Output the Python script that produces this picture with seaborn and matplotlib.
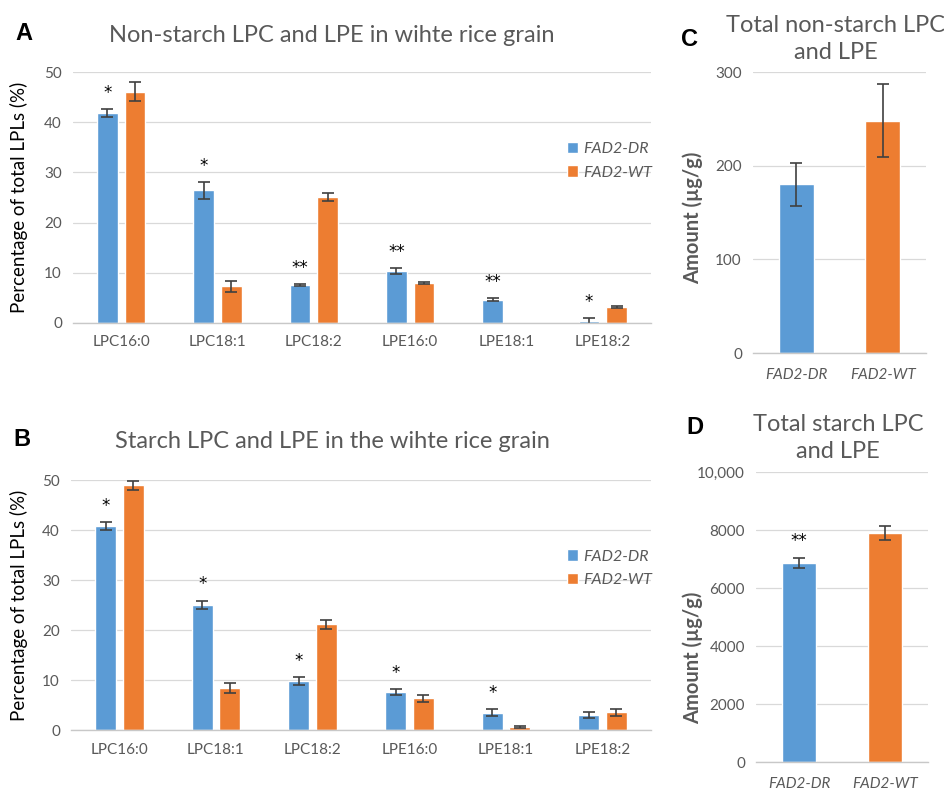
import numpy as np
import pandas as pd
import matplotlib.pyplot as plt
import matplotlib.ticker as mticker
import seaborn as sns

# ============================
# Data
# ============================
lipids = ["LPC16:0", "LPC18:1", "LPC18:2", "LPE16:0", "LPE18:1", "LPE18:2"]
lines = ["FAD2-DR", "FAD2-WT"]

# panel A: non-starch, % of total LPLs
a_dr = [41.8, 26.4, 7.5, 10.3, 4.6, 0.4]
a_dr_sd = [0.8, 1.7, 0.2, 0.6, 0.3, 0.5]
a_wt = [46.1, 7.3, 25.1, 8.0, np.nan, 3.2]
a_wt_sd = [1.9, 1.1, 0.7, 0.2, np.nan, 0.2]
a_stars = ["*", "*", "**", "**", "**", "*"]

# panel B: starch, % of total LPLs
b_dr = [40.9, 25.1, 9.8, 7.6, 3.5, 3.1]
b_dr_sd = [0.8, 0.8, 0.8, 0.6, 0.7, 0.6]
b_wt = [49.0, 8.5, 21.2, 6.4, 0.6, 3.6]
b_wt_sd = [0.9, 1.0, 0.9, 0.7, 0.2, 0.7]
b_stars = ["*", "*", "*", "*", "*", ""]

# panel C / D: totals, ug/g
c_tot = [180, 248]
c_sd = [23, 39]
c_stars = ["", ""]
d_tot = [6850, 7900]
d_sd = [170, 230]
d_stars = ["**", ""]
d_ticklabels = ["0", "2000", "4000", "6000", "8000", "10,000"]

BLUE = "#5B9BD5"
ORANGE = "#ED7D31"
GREY_TXT = "#595959"
GRID = "#D9D9D9"
ERR = "#404040"

sns.set_style("white")
plt.rcParams["font.family"] = ["Lato", "DejaVu Sans"]

fig = plt.figure(figsize=(9.45, 7.94), dpi=100)


def style_axes(ax, ymax, step):
    ax.set_ylim(0, ymax)
    ax.set_yticks(np.arange(0, ymax + 1, step))
    ax.grid(axis="y", color=GRID, lw=0.9)
    ax.set_axisbelow(True)
    for s in ["left", "right", "top"]:
        ax.spines[s].set_visible(False)
    ax.spines["bottom"].set_color("#C8C8C8")
    ax.spines["bottom"].set_linewidth(1.0)
    ax.tick_params(axis="both", length=0, colors=GREY_TXT, labelsize=11)
    ax.tick_params(axis="y", pad=8)
    ax.set_xlabel("")


def grouped(ax, dr, dr_sd, wt, wt_sd, stars, star_off):
    df = pd.DataFrame({
        "lipid": lipids * 2,
        "line": [lines[0]] * 6 + [lines[1]] * 6,
        "val": dr + wt,
    })
    sns.barplot(data=df, x="lipid", y="val", hue="line", order=lipids,
                hue_order=lines, palette=[BLUE, ORANGE], errorbar=None,
                width=0.572, gap=0.25, saturation=1, ax=ax, legend=True)
    xs = np.arange(len(lipids))
    off = 0.572 / 4
    ax.errorbar(xs - off, dr, yerr=dr_sd, fmt="none", ecolor=ERR,
                elinewidth=1.2, capsize=4, capthick=1.2)
    ax.errorbar(xs + off, wt, yerr=wt_sd, fmt="none", ecolor=ERR,
                elinewidth=1.2, capsize=4, capthick=1.2)
    for x, v, e, s in zip(xs, dr, dr_sd, stars):
        if s:
            ax.text(x - off, v + e + star_off, s, ha="center", va="center",
                    fontsize=12, color="black", family=["DejaVu Sans"])
    ax.set_xlim(-0.5, 5.5)
    style_axes(ax, 50, 10)
    ax.set_ylabel("Percentage of total LPLs (%)", fontsize=13.5, color="black")
    ax.tick_params(axis="x", pad=9)
    leg = ax.legend(loc="upper left", bbox_to_anchor=(0.83, 0.78), frameon=False,
                    handlelength=0.7, handleheight=0.7, handletextpad=0.3,
                    labelspacing=0.6, fontsize=11.5)
    for t in leg.get_texts():
        t.set_color(GREY_TXT)
        t.set_style("italic")
    return ax


def totals(ax, vals, sds, stars, ymax, step, star_off):
    sns.barplot(x=lines, y=vals, hue=lines, palette=[BLUE, ORANGE],
                errorbar=None, width=0.4, saturation=1, ax=ax, legend=False)
    xs = np.arange(2)
    ax.errorbar(xs, vals, yerr=sds, fmt="none", ecolor=ERR,
                elinewidth=1.2, capsize=4, capthick=1.2)
    for x, v, e, s in zip(xs, vals, sds, stars):
        if s:
            ax.text(x, v + e + star_off, s, ha="center", va="center",
                    fontsize=12, color="black", family=["DejaVu Sans"])
    ax.set_xlim(-0.5, 1.5)
    style_axes(ax, ymax, step)
    ax.set_ylabel("Amount (µg/g)", fontsize=14.5, color=GREY_TXT,
                  fontweight="bold")
    ax.tick_params(axis="x", pad=11)
    for t in ax.get_xticklabels():
        t.set_style("italic")
    return ax


# A
axA = fig.add_axes([73 / 945, 1 - 323 / 794, 578 / 945, 251 / 794])
grouped(axA, a_dr, a_dr_sd, a_wt, a_wt_sd, a_stars, 3.2)
axA.yaxis.set_label_coords(-0.077, 0.5)

# B
axB = fig.add_axes([71 / 945, 1 - 730 / 794, 580 / 945, 250 / 794])
grouped(axB, b_dr, b_dr_sd, b_wt, b_wt_sd, b_stars, 3.2)
axB.yaxis.set_label_coords(-0.074, 0.5)

# C
axC = fig.add_axes([753 / 945, 1 - 353 / 794, 173 / 945, 281 / 794])
totals(axC, c_tot, c_sd, c_stars, 300, 100, 20)
axC.yaxis.set_label_coords(-0.29, 0.48)

# D
axD = fig.add_axes([756 / 945, 1 - 762 / 794, 172 / 945, 290 / 794])
totals(axD, d_tot, d_sd, d_stars, 10000, 2000, 600)
axD.yaxis.set_major_locator(mticker.FixedLocator(np.arange(0, 10001, 2000)))
axD.yaxis.set_major_formatter(mticker.FixedFormatter(d_ticklabels))
axD.yaxis.set_label_coords(-0.31, 0.36)

# titles and panel letters
fig.text(332 / 945, 1 - 35 / 794, "Non-starch LPC and LPE in wihte rice grain",
         ha="center", va="center", fontsize=17, color=GREY_TXT)
fig.text(332 / 945, 1 - 442 / 794, "Starch LPC and LPE in the wihte rice grain",
         ha="center", va="center", fontsize=17, color=GREY_TXT)
fig.text(836 / 945, 1 - 39 / 794, "Total non-starch LPC\nand LPE",
         ha="center", va="center", fontsize=17, color=GREY_TXT, linespacing=1.35)
fig.text(838 / 945, 1 - 438 / 794, "Total starch LPC\nand LPE",
         ha="center", va="center", fontsize=17, color=GREY_TXT, linespacing=1.35)
for x, y, s in [(24, 34, "A"), (22, 440, "B"), (690, 39, "C"), (695, 428, "D")]:
    fig.text(x / 945, 1 - y / 794, s, ha="center", va="center", fontsize=17,
             fontweight="bold", color="black", family=["Liberation Sans", "DejaVu Sans"])

plt.savefig("out.png", dpi=100)
